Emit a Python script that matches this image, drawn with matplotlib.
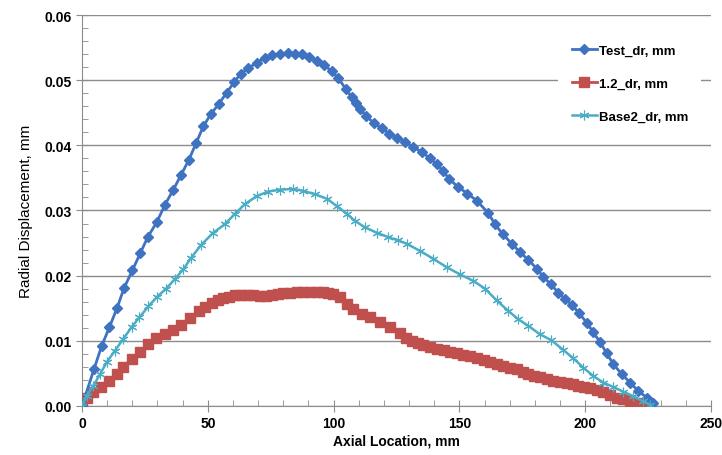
import matplotlib.pyplot as plt
from matplotlib.ticker import MultipleLocator, FormatStrFormatter

plt.rcParams['font.family'] = ['Liberation Sans', 'DejaVu Sans']

# Test_dr
test_x = [0, 4.8, 7.8, 10.9, 14.0, 16.7, 20.0, 23.1, 26.1, 29.7, 33.0, 36.3, 39.3,
          42.5, 45.3, 48.2, 51.2, 54.3, 57.5, 60.5, 63.1, 66.1, 69.4, 72.7, 75.4,
          78.7, 82.0, 84.7, 87.3, 90.2, 93.3, 96.2, 99.2, 101.9, 104.9, 107.2,
          108.9, 110.5, 112.9, 116.1, 119.1, 122.1, 125.1, 128.4, 131.7, 135.0,
          138.3, 141.0, 143.6, 146.0, 149.5, 153.2, 156.9, 161.5, 164.1, 167.2,
          170.8, 174.1, 177.4, 181.0, 183.3, 186.3, 189.3, 192.0, 194.8, 197.6,
          200.6, 203.2, 205.9, 208.5, 211.2, 214.5, 217.8, 221.1, 224.4, 227.1]
test_y = [0, 0.0057, 0.0092, 0.0121, 0.0151, 0.0181, 0.0208, 0.0234, 0.0259,
          0.0282, 0.0309, 0.0332, 0.0354, 0.0378, 0.0403, 0.0429, 0.0448, 0.0463,
          0.0481, 0.0497, 0.0510, 0.0518, 0.0527, 0.0534, 0.0539, 0.0540, 0.0541,
          0.0540, 0.0540, 0.0535, 0.0530, 0.0523, 0.0514, 0.0503, 0.0486, 0.0474,
          0.0465, 0.0456, 0.0445, 0.0434, 0.0426, 0.0418, 0.0412, 0.0405, 0.0397,
          0.0390, 0.0380, 0.0371, 0.0360, 0.0348, 0.0336, 0.0326, 0.0315, 0.0296,
          0.0279, 0.0264, 0.0249, 0.0236, 0.0224, 0.0210, 0.0198, 0.0187, 0.0174,
          0.0164, 0.0155, 0.0142, 0.0128, 0.0113, 0.0098, 0.0081, 0.0064, 0.0049,
          0.0036, 0.0023, 0.0013, 0.0004]

# 1.2_dr
r12_x = [0, 1.9, 4.5, 7.4, 10.9, 13.8, 16.4, 19.7, 23.1, 26.4, 29.4, 33.0, 36.3,
         39.3, 42.9, 46.5, 49.0, 51.5, 54.0, 56.2, 58.5, 60.8, 63.2, 65.5, 68.1,
         70.7, 73.0, 75.4, 77.7, 80.0, 82.7, 85.3, 88.0, 90.6, 93.2, 95.9, 97.9,
         99.9, 102.5, 105.2, 107.8, 111.2, 114.5, 118.4, 122.4, 126.4, 128.7,
         131.0, 133.4, 135.7, 138.4, 141.0, 143.7, 146.3, 148.9, 151.5, 154.2,
         156.9, 159.6, 162.2, 164.9, 167.5, 170.2, 172.8, 175.1, 177.4, 179.7,
         182.0, 184.7, 187.3, 190.0, 192.6, 195.0, 197.3, 199.6, 201.9, 204.6,
         207.2, 209.9, 212.5, 215.2, 217.8, 220.5, 223.1, 225.0]
r12_y = [0.0003, 0.0013, 0.0022, 0.0029, 0.0039, 0.0049, 0.0060, 0.0072, 0.0083,
         0.0095, 0.0105, 0.0110, 0.0116, 0.0124, 0.0135, 0.0146, 0.0152, 0.0158,
         0.0162, 0.0165, 0.0168, 0.0170, 0.0171, 0.0171, 0.0170, 0.0169, 0.0169,
         0.0170, 0.0172, 0.0173, 0.0174, 0.0175, 0.0175, 0.0175, 0.0175, 0.0175,
         0.0174, 0.0172, 0.0167, 0.0157, 0.0149, 0.0141, 0.0136, 0.0129, 0.0121,
         0.0112, 0.0105, 0.0100, 0.0097, 0.0094, 0.0091, 0.0088, 0.0086, 0.0083,
         0.0081, 0.0078, 0.0076, 0.0073, 0.0070, 0.0067, 0.0064, 0.0061, 0.0059,
         0.0056, 0.0052, 0.0049, 0.0046, 0.0044, 0.0041, 0.0039, 0.0037, 0.0035,
         0.0033, 0.0031, 0.0029, 0.0027, 0.0024, 0.0021, 0.0017, 0.0013, 0.0010,
         0.0007, 0.0004, 0.0001, 0.0000]

# Base2_dr
base_x = [0, 1.9, 4.5, 7.2, 9.8, 13.1, 16.4, 19.7, 22.8, 26.4, 29.7, 33.4, 37.0,
          40.3, 43.3, 47.3, 52.2, 56.8, 60.8, 64.8, 69.4, 74.0, 78.7, 84.0, 88.0,
          92.6, 97.3, 101.2, 105.2, 108.5, 112.5, 117.1, 121.7, 125.7, 129.1,
          134.3, 139.6, 144.9, 150.2, 155.5, 160.2, 164.8, 169.4, 173.4, 177.4,
          182.0, 186.5, 191.3, 195.3, 199.2, 203.2, 207.2, 211.2, 215.1, 219.1,
          223.1, 225.8]
base_y = [0, 0.0016, 0.0031, 0.0049, 0.0067, 0.0085, 0.0103, 0.0121, 0.0136,
          0.0153, 0.0167, 0.0180, 0.0195, 0.0210, 0.0227, 0.0247, 0.0266, 0.0279,
          0.0295, 0.0310, 0.0322, 0.0329, 0.0332, 0.0333, 0.0330, 0.0325, 0.0318,
          0.0307, 0.0295, 0.0284, 0.0274, 0.0266, 0.0259, 0.0254, 0.0249, 0.0238,
          0.0226, 0.0213, 0.0202, 0.0192, 0.0180, 0.0162, 0.0146, 0.0133, 0.0123,
          0.0110, 0.0101, 0.0086, 0.0073, 0.0059, 0.0046, 0.0036, 0.0029, 0.0022,
          0.0015, 0.0007, 0.0002]

fig = plt.figure(figsize=(7.22, 4.56), dpi=100)
ax = fig.add_axes([0.1136, 0.1075, 0.8712, 0.8574])

ax.plot(test_x, test_y, color='#3F72C0', lw=2, marker='D', ms=5,
        label='Test_dr, mm', zorder=4)
ax.plot(r12_x, r12_y, color='#C0504D', lw=2, marker='s', ms=7.5,
        label='1.2_dr, mm', zorder=3)
ax.plot(base_x, base_y, color='#4BACC6', lw=1.8, marker=(6, 2, 0), ms=7,
        mew=0.8, label='Base2_dr, mm', zorder=5)

ax.set_xlim(0, 250)
ax.set_ylim(0, 0.06)
ax.xaxis.set_major_locator(MultipleLocator(50))
ax.xaxis.set_minor_locator(MultipleLocator(10))
ax.yaxis.set_major_locator(MultipleLocator(0.01))
ax.yaxis.set_minor_locator(MultipleLocator(0.002))
ax.yaxis.set_major_formatter(FormatStrFormatter('%.2f'))

ax.grid(axis='y', which='major', color='#8c8c8c', lw=1)
ax.set_axisbelow(True)
for side in ['top', 'right']:
    ax.spines[side].set_visible(False)
for side in ['left', 'bottom']:
    ax.spines[side].set_color('#8c8c8c')
ax.tick_params(which='major', direction='inout', length=8, color='#8c8c8c',
               labelsize=10)
ax.tick_params(which='minor', direction='in', length=4, color='#8c8c8c')
for lab in ax.get_xticklabels() + ax.get_yticklabels():
    lab.set_fontweight('bold')

ax.set_xlabel('Axial Location, mm', fontsize=10, fontweight='bold', labelpad=2)
ax.set_ylabel('Radial Displacement, mm', fontsize=11, labelpad=8)

leg = ax.legend(loc='upper right', bbox_to_anchor=(0.995, 0.975), frameon=True,
                facecolor='white', edgecolor='none', framealpha=1,
                prop={'weight': 'bold', 'size': 9.5}, labelspacing=1.56,
                handlelength=1.9, handletextpad=0.15, borderpad=1.0)

plt.savefig('out.png', dpi=100)
